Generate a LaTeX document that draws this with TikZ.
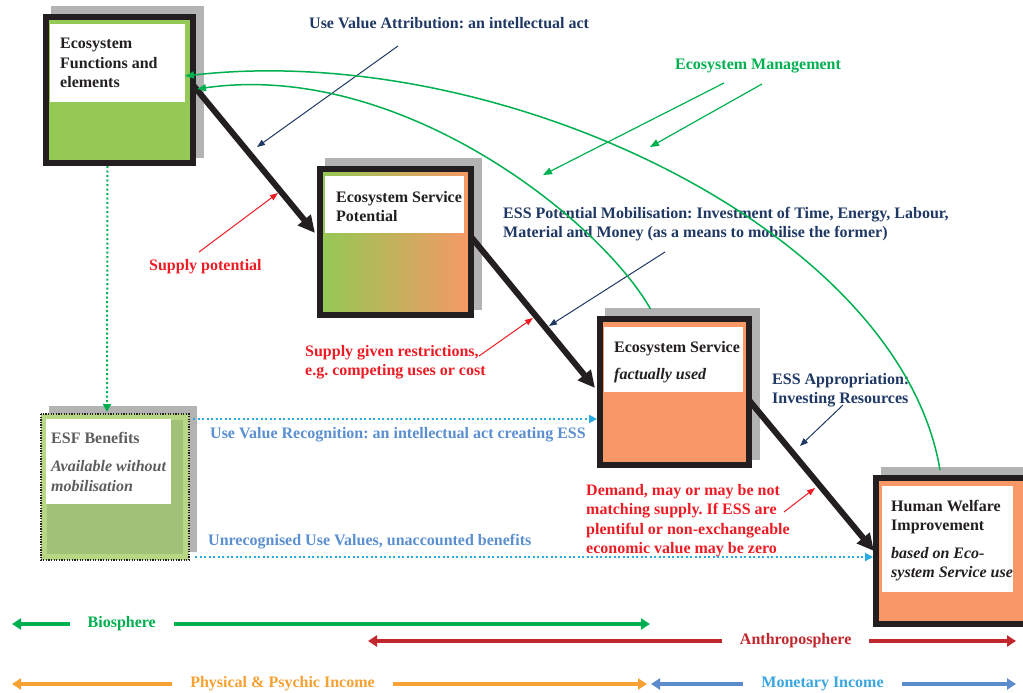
\documentclass[tikz,border=0pt]{standalone}
\usepackage{fontspec}
\setmainfont{Liberation Serif}
\usetikzlibrary{arrows.meta,shadows}
\frenchspacing

\definecolor{boxblack}{HTML}{231F20}
\definecolor{ecogreen}{HTML}{93C954}
\definecolor{esorange}{HTML}{F79866}
\definecolor{shadowgray}{HTML}{B4B3B4}
\definecolor{esfdark}{HTML}{A1C078}
\definecolor{esflight}{HTML}{B8D785}
\definecolor{greytext}{HTML}{5E5E5E}
\definecolor{navy}{HTML}{1F3864}
\definecolor{mgmtgreen}{HTML}{00B050}
\definecolor{suppred}{HTML}{ED1C24}
\definecolor{recblue}{HTML}{5B8FD0}
\definecolor{dotblue}{HTML}{29ABE2}
\definecolor{anthred}{HTML}{C1272D}
\definecolor{incorange}{HTML}{F7A133}
\definecolor{monblue}{HTML}{5B8BCB}
\definecolor{montext}{HTML}{3AA6E0}

\begin{document}
\begin{tikzpicture}[x=1pt,y=-1pt,>={Triangle[length=8pt,width=6pt]},
                    line join=miter]
  \tikzstyle{every node}=[font=\fontsize{16}{19.5}\selectfont\bfseries]
  \tikzstyle{ecobox}=[draw=boxblack,line width=6pt,inner sep=0pt,
                      general shadow={fill=shadowgray,draw=shadowgray,line width=6pt,
                                      shadow xshift=8pt,shadow yshift=8pt}]
  \tikzstyle{card}=[fill=white,inner sep=0pt,anchor=north west]
  \tikzstyle{boxtext}=[align=left,inner sep=0pt,anchor=north west,text=boxblack]
  \tikzstyle{note}=[align=left,inner sep=0pt,anchor=north west]
  \tikzstyle{lbl}=[anchor=base west,inner sep=0pt]
  \tikzstyle{flow}=[-{Triangle[length=17pt,width=16pt]},line width=6pt,draw=boxblack]
  \tikzstyle{pointer}=[->,line width=1pt]
  \tikzstyle{mgmt}=[->,draw=mgmtgreen,line width=1.5pt,>={Triangle[length=9pt,width=7pt]}]
  \tikzstyle{dots}=[->,line width=2pt,dash pattern=on 2pt off 2.5pt,
                    >={Triangle[length=8pt,width=8pt]}]
  \tikzstyle{band}=[{Triangle[length=9pt,width=11pt]}-{Triangle[length=9pt,width=11pt]},
                    line width=3.5pt]
  \tikzstyle{bandlabel}=[fill=white,inner xsep=18pt,inner ysep=1pt]

  \useasboundingbox (0,0) rectangle (1023,693);

  \node[ecobox,fill=ecogreen,minimum width=147pt,minimum height=146pt] (efn) at (119.5,90) {};
  \node[ecobox,left color=ecogreen,right color=esorange,minimum width=151pt,minimum height=146pt] (esp) at (395.5,242) {};
  \node[ecobox,fill=esorange,minimum width=149pt,minimum height=146pt] (es) at (674.5,392) {};
  \node[ecobox,fill=esorange,minimum width=150pt,minimum height=146pt] (hwi) at (951,551) {};
  \node[ecobox,fill=esfdark,draw=esflight,minimum width=142pt,minimum height=140pt] (esf) at (115,487) {};
  \draw[boxblack,line width=1.3pt,dash pattern=on 1.3pt off 1.3pt] (esf.north west) rectangle (esf.south east);

  \node[card,minimum width=135pt,minimum height=78pt] (efncard) at (50,24) {};
  \node[card,minimum width=139pt,minimum height=57pt] (espcard) at (325,176) {};
  \node[card,minimum width=139pt,minimum height=65pt] (escard) at (604,327) {};
  \node[card,minimum width=131pt,minimum height=106pt] (hwicard) at (882,486) {};
  \node[card,minimum width=125pt,minimum height=85pt] (esfcard) at (46,419) {};

  \node[boxtext] (efntext) at (60,38) {Ecosystem\\Functions and\\elements};
  \node[boxtext] (esptext) at (336,191) {Ecosystem Service\\Potential};
  \node[boxtext] (estext) at (614,341) {Ecosystem Service\\[8pt]\textit{factually used}};
  \node[boxtext] (hwitext) at (891,500) {Human Welfare\\Improvement\\[8pt]\textit{based on Eco-}\\\textit{system Service use}};
  \node[boxtext,text=greytext] (esftext) at (51,432) {ESF Benefits\\[9pt]\textit{Available without}\\\textit{mobilisation}};

  \node[lbl,text=navy] (uvalabel) at (309,29) {Use Value Attribution: an intellectual act};
  \node[lbl,text=mgmtgreen] (mgmtlabel) at (675,70) {Ecosystem Management};
  \node[note,text=navy] (moblabel) at (503,207) {ESS Potential Mobilisation: Investment of Time, Energy, Labour,\\Material and Money (as a means to mobilise the former)};
  \node[lbl,text=suppred] (suplabel) at (149,270) {Supply potential};
  \node[note,text=suppred] (reslabel) at (305,345) {Supply given restrictions,\\e.g. competing uses or cost};
  \node[note,text=navy] (applabel) at (772,373) {ESS Appropriation:\\Investing Resources};
  \node[lbl,text=recblue] (reclabel) at (210,438) {Use Value Recognition: an intellectual act creating ESS};
  \node[lbl,text=recblue] (unreclabel) at (208,545) {Unrecognised Use Values, unaccounted benefits};
  \node[note,text=suppred] (demlabel) at (586,484) {Demand, may or may be not\\matching supply. If ESS are\\plentiful or non-exchangeable\\economic value may be zero};

  \coordinate (uvaS) at (398,46);   \coordinate (uvaE) at (257,147);
  \coordinate (mgmtS1) at (724,83); \coordinate (mgmtE1) at (543,175);
  \coordinate (mgmtS2) at (762,84); \coordinate (mgmtE2) at (650,147);
  \coordinate (supS) at (199,252);  \coordinate (supE) at (278,193);
  \coordinate (mobS) at (665,252);  \coordinate (mobE) at (549,326);
  \coordinate (resS) at (479,356);  \coordinate (resE) at (533,318);
  \coordinate (appS) at (843,405);  \coordinate (appE) at (800,446);
  \coordinate (demS) at (784,512);  \coordinate (demE) at (815,488);

  \draw[dots,mgmtgreen] ([xshift=-12pt]efn.south) -- ([xshift=-8pt,yshift=2pt]esf.north);
  \draw[dots,dotblue] ([xshift=4pt,yshift=-5pt]esf.north east) -- ([yshift=-27pt]es.west);
  \draw[dots,dotblue] ([xshift=6pt,yshift=3pt]esf.south east) -- ([yshift=-6pt]hwi.west);

  \draw[pointer,navy] (uvaS) -- (uvaE);
  \draw[pointer,navy] (mobS) -- (mobE);
  \draw[pointer,navy] (appS) -- (appE);
  \draw[pointer,suppred] (supS) -- (supE);
  \draw[pointer,suppred] (resS) -- (resE);
  \draw[pointer,suppred] (demS) -- (demE);
  \draw[mgmt,line width=1.2pt] (mgmtS1) -- (mgmtE1);
  \draw[mgmt,line width=1.2pt] (mgmtS2) -- (mgmtE2);

  \path ([xshift=-3pt,yshift=5pt]efn.east) edge[flow] ([xshift=-2pt,yshift=9pt]esp.west)
        ([xshift=-2pt,yshift=4pt]esp.east) edge[flow] ([xshift=-2pt,yshift=4pt]es.west)
        ([xshift=-4pt,yshift=-7pt]es.east) edge[flow] ([xshift=1pt]hwi.west);

  \draw[mgmt] ([xshift=-11pt,yshift=5pt]hwi.north) .. controls (900,230) and (500,40) .. ([xshift=-11pt,yshift=14pt]efn.east);
  \draw[mgmt] ([xshift=-24pt,yshift=7pt]es.north) .. controls (600,220) and (400,60) .. ([xshift=1pt,yshift=1pt]efn.east);

  \coordinate (bioL) at (12,624);    \coordinate (bioR) at (650,624);
  \coordinate (anthL) at (368,641);  \coordinate (anthR) at (1016,641);
  \coordinate (physL) at (12,684);   \coordinate (physR) at (647,684);
  \coordinate (monL) at (651,684);   \coordinate (monR) at (1016,684);

  \draw[band,mgmtgreen] (bioL) -- node[bandlabel,pos=.172] (biolabel) {Biosphere} (bioR);
  \draw[band,anthred] (anthL) -- node[bandlabel,pos=.66] (anthlabel) {Anthroposphere} (anthR);
  \draw[band,incorange] (physL) -- node[bandlabel,pos=.426] (physlabel) {Physical \& Psychic Income} (physR);
  \draw[band,monblue] (monL) -- node[bandlabel,pos=.47,text=montext] (monlabel) {Monetary Income} (monR);
\end{tikzpicture}
\end{document}
